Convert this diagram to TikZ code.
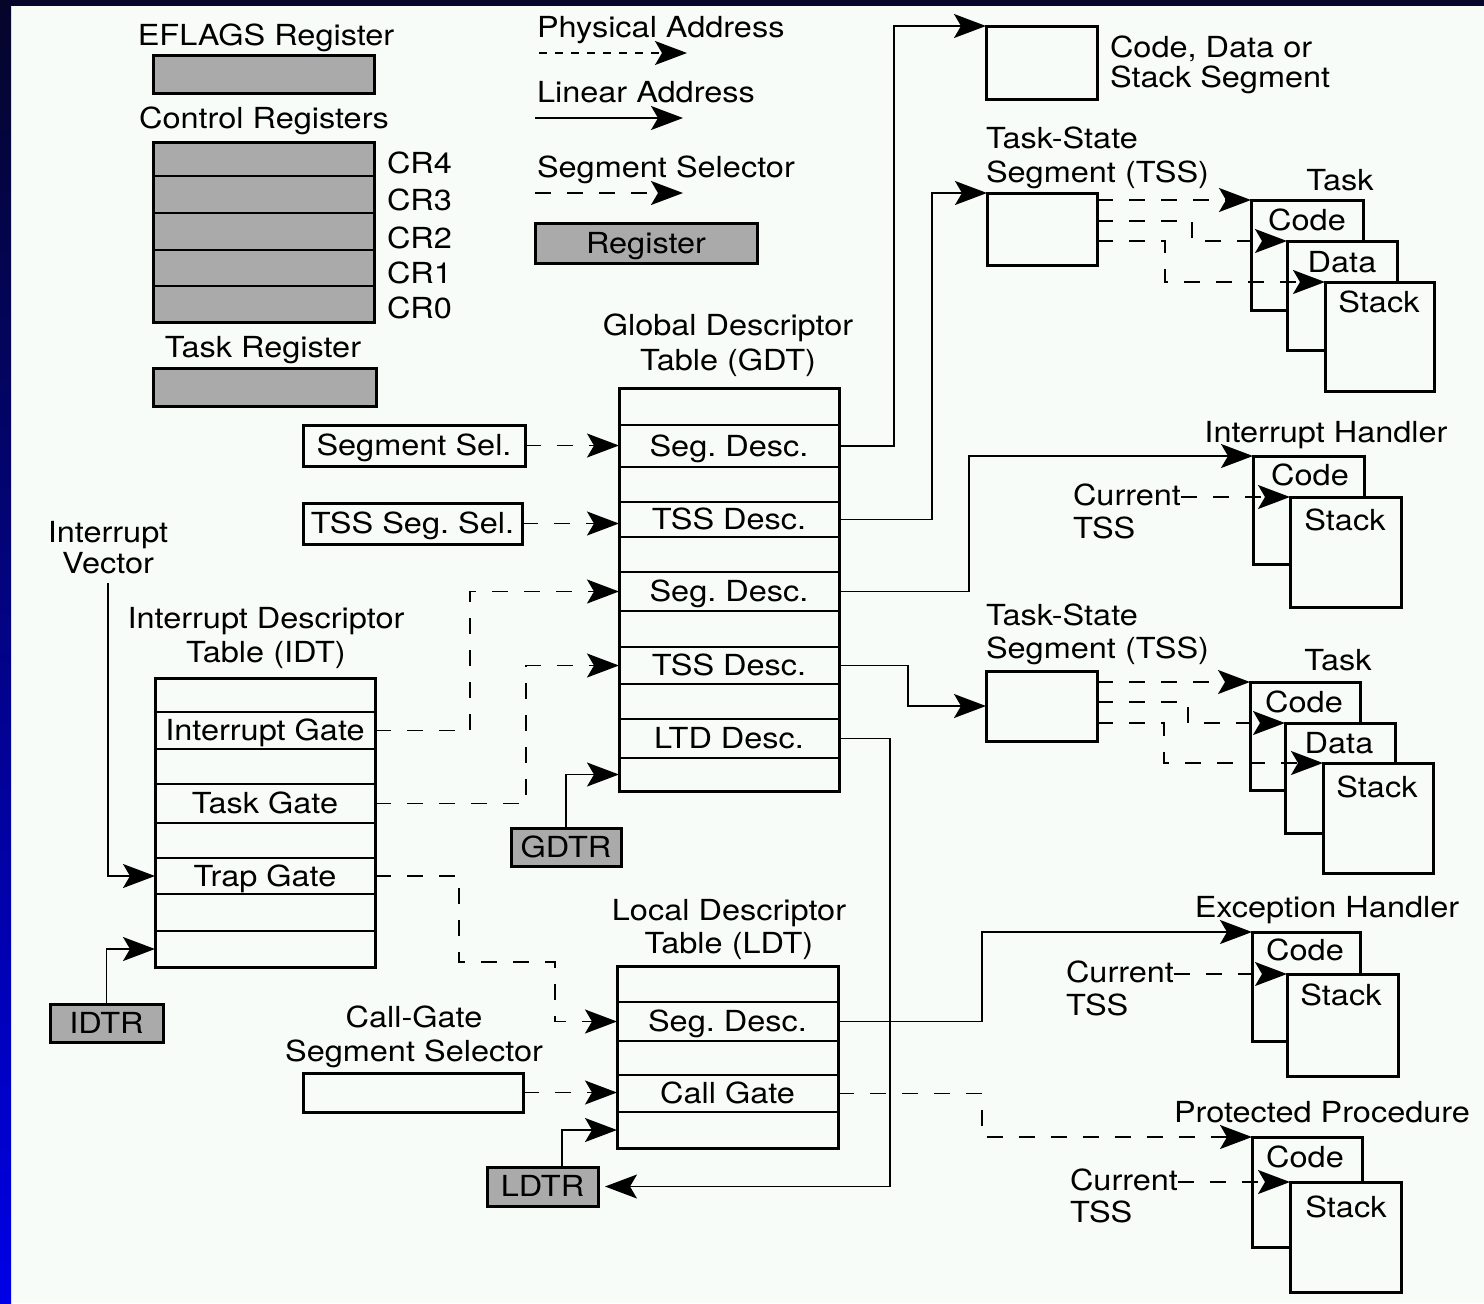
\documentclass[tikz,border=0pt]{standalone}
\usepackage{fontspec}
\setmainfont{TeX Gyre Heros}[FakeStretch=1.12]
\usetikzlibrary{arrows.meta}
\definecolor{bgc}{RGB}{248,252,248}
\definecolor{regc}{RGB}{170,170,170}
\definecolor{navyc}{RGB}{5,5,42}
\definecolor{brblue}{RGB}{0,0,230}
\begin{document}
\frenchspacing
\begin{tikzpicture}[x=0.5pt,y=-0.5pt,
  font=\fontsize{14.5}{17}\selectfont,
  bx/.style={draw=black, line width=1.5pt, fill=bgc, inner sep=0pt, outer sep=0pt, text height=10.4pt, text depth=0pt},
  rg/.style={bx, fill=regc},
  cell/.style={draw=black, line width=0.8pt, inner sep=0pt, outer sep=0pt, text height=10.4pt, text depth=0pt},
  crcell/.style={cell, fill=regc, minimum width=110.5pt},
  outer/.style={draw=black, line width=1.5pt, inner sep=0pt, outer sep=0pt},
  txt/.style={inner sep=0pt, outer sep=0pt, text height=10.4pt, text depth=0pt},
  ml/.style={inner sep=0pt, outer sep=0pt, text depth=0pt},
  lin/.style={line width=0.8pt, -{Stealth[length=16pt,width=12pt,inset=3.5pt]}},
  sel/.style={lin, dash pattern=on 8pt off 8pt},
  phy/.style={lin, dash pattern=on 4pt off 4pt},
]
% background and frame
\useasboundingbox (0,0) rectangle (1484,1303);
\fill[bgc] (0,0) rectangle (1484,1303);
\fill[navyc] (0,0) rectangle (1484,6);
\shade[top color=navyc, bottom color=brblue] (0,0) rectangle (11,1303);

% ---------- registers (left top) ----------
\node[txt] (eflagsT) at (266,35) {EFLAGS Register};
\node[rg, minimum width=110.5pt, minimum height=19pt] (eflags) at (263.5,74) {};
\node[txt] (crT) at (264,118) {Control Registers};
\node[crcell, minimum height=17pt]   (cr4r) at (263.5,159) {};
\node[crcell, minimum height=18.5pt] (cr3r) at (263.5,194.5) {};
\node[crcell, minimum height=18.5pt] (cr2r) at (263.5,231.5) {};
\node[crcell, minimum height=18pt]   (cr1r) at (263.5,268) {};
\node[crcell, minimum height=18pt]   (cr0r) at (263.5,304) {};
\node[outer, minimum width=110.5pt, minimum height=90pt] (cr) at (263.5,232) {};
\node[txt, anchor=west] (cr4) at (387,163) {CR4};
\node[txt, anchor=west] (cr3) at (387,200) {CR3};
\node[txt, anchor=west] (cr2) at (387,238) {CR2};
\node[txt, anchor=west] (cr1) at (387,273) {CR1};
\node[txt, anchor=west] (cr0) at (387,308) {CR0};
\node[txt] (trT) at (263,347) {Task Register};
\node[rg, minimum width=111.5pt, minimum height=19pt] (tr) at (264.5,387) {};

% ---------- legend ----------
\node[txt, anchor=west] (lgPA) at (537,27) {Physical Address};
\coordinate (pa1) at (539,53); \coordinate (pa2) at (687,53);
\draw[phy] (pa1) -- (pa2);
\node[txt, anchor=west] (lgLA) at (537,92) {Linear Address};
\coordinate (la1) at (535,118); \coordinate (la2) at (683,118);
\draw[lin] (la1) -- (la2);
\node[txt, anchor=west] (lgSS) at (537,167) {Segment Selector};
\coordinate (sl1) at (535,193); \coordinate (sl2) at (683,193);
\draw[sel] (sl1) -- (sl2);
\node[rg, minimum width=111pt, minimum height=20pt] (lgR) at (646,243) {Register};

% ---------- GDT ----------
\node[ml, align=center, anchor=south, font=\fontsize{14.5}{17.5}\selectfont] (gdtT) at (728,370) {Global Descriptor\\Table (GDT)};
\begin{scope}[every node/.append style={minimum width=110pt}]
\node[cell, minimum height=18.5pt] (g0) at (729,406.5) {};
\node[cell, minimum height=21pt]   (gSeg1) at (729,446) {Seg. Desc.};
\node[cell, minimum height=17.5pt] (g2) at (729,484.5) {};
\node[cell, minimum height=17.5pt] (gTss1) at (729,519.5) {TSS Desc.};
\node[cell, minimum height=17.5pt] (g4) at (729,554.5) {};
\node[cell, minimum height=19.5pt] (gSeg2) at (729,591.5) {Seg. Desc.};
\node[cell, minimum height=18pt]   (g6) at (729,629) {};
\node[cell, minimum height=18.5pt] (gTss2) at (729,665.5) {TSS Desc.};
\node[cell, minimum height=17.5pt] (g8) at (729,701.5) {};
\node[cell, minimum height=19.5pt] (gLtd) at (729,738.5) {LTD Desc.};
\node[cell, minimum height=16.5pt] (gLast) at (729,774.5) {};
\node[outer, minimum height=201.5pt] (gdt) at (729,589.5) {};
\end{scope}

% selectors
\node[bx, minimum width=111pt, minimum height=20.5pt] (ss) at (414,445.5) {Segment Sel.};
\node[bx, minimum width=109.5pt, minimum height=20.5pt] (tss) at (412.5,523.5) {TSS Seg. Sel.};

% ---------- IDT ----------
\node[ml, align=center, anchor=south] (idtT) at (266,662) {Interrupt Descriptor\\Table (IDT)};
\begin{scope}[every node/.append style={minimum width=110pt}]
\node[cell, minimum height=17pt]   (i0) at (265,695) {};
\node[cell, minimum height=18.5pt] (iInt) at (265,730.5) {Interrupt Gate};
\node[cell, minimum height=17.5pt] (i2) at (265,766.5) {};
\node[cell, minimum height=19.5pt] (iTask) at (265,803.5) {Task Gate};
\node[cell, minimum height=17.5pt] (i4) at (265,840.5) {};
\node[cell, minimum height=18pt]   (iTrap) at (265,876) {Trap Gate};
\node[cell, minimum height=18.5pt] (i6) at (265,912.5) {};
\node[cell, minimum height=18pt]   (iLast) at (265,949) {};
\node[outer, minimum height=144.5pt] (idt) at (265,822.5) {};
\end{scope}
\node[ml, align=center, anchor=south, font=\fontsize{14.5}{15.5}\selectfont] (ivT) at (108,573) {Interrupt\\Vector};

% registers
\node[rg, minimum width=55pt, minimum height=19pt] (gdtr) at (566,847) {GDTR};
\node[rg, minimum width=56.5pt, minimum height=19pt] (idtr) at (106.5,1023) {IDTR};
\node[rg, minimum width=55.5pt, minimum height=19.5pt] (ldtr) at (542.5,1186.5) {LDTR};

% ---------- LDT ----------
\node[ml, align=center, anchor=south, font=\fontsize{14.5}{16.5}\selectfont] (ldtT) at (729,953) {Local Descriptor\\Table (LDT)};
\begin{scope}[every node/.append style={minimum width=110.5pt}]
\node[cell, minimum height=18pt]   (l0) at (727.5,984) {};
\node[cell, minimum height=19.5pt] (lSeg) at (727.5,1021.5) {Seg. Desc.};
\node[cell, minimum height=17pt]   (l2) at (727.5,1058) {};
\node[cell, minimum height=18.5pt] (lCall) at (727.5,1093.5) {Call Gate};
\node[cell, minimum height=18pt]   (lLast) at (727.5,1130) {};
\node[outer, minimum height=91pt] (ldt) at (727.5,1057) {};
\end{scope}
\node[ml, align=center, anchor=south] (cgT) at (414,1061) {Call-Gate\\Segment Selector};
\node[bx, minimum width=110pt, minimum height=19.5pt] (cgs) at (413,1092.5) {};

% ---------- right column ----------
\node[bx, minimum width=55.5pt, minimum height=36.5pt] (cds) at (1041.5,62.5) {};
\node[ml, align=left, anchor=south west, font=\fontsize{14.5}{15}\selectfont] (cdsT) at (1110,87) {Code, Data or\\Stack Segment};

\node[ml, align=left, anchor=south west] (tss1T) at (986,182) {Task-State\\Segment (TSS)};
\node[bx, minimum width=55pt, minimum height=36pt] (tss1) at (1042,229) {};
\node[txt] (task1T) at (1340,180) {Task};
\node[bx, minimum width=56pt, minimum height=55pt] (t1C) at (1307,255) {};
\node[txt] (t1CT) at (1307,220) {Code};
\node[bx, minimum width=55pt, minimum height=54.5pt] (t1D) at (1342,295.5) {};
\node[txt] (t1DT) at (1342,262) {Data};
\node[bx, minimum width=54.5pt, minimum height=54.5pt] (t1S) at (1379.5,336.5) {};
\node[txt] (t1ST) at (1379,302) {Stack};

\node[txt] (ihT) at (1326,432) {Interrupt Handler};
\node[bx, minimum width=55.5pt, minimum height=54pt] (ihC) at (1308.5,510) {};
\node[txt] (ihCT) at (1310,475) {Code};
\node[bx, minimum width=55.5pt, minimum height=55pt] (ihS) at (1345.5,552) {};
\node[txt] (ihST) at (1345,520) {Stack};
\node[ml, align=left, anchor=south west, font=\fontsize{14.5}{16.5}\selectfont] (cur1) at (1073,538) {Current\\TSS};

\node[ml, align=left, anchor=south west, font=\fontsize{14.5}{16.5}\selectfont] (tss2T) at (986,658) {Task-State\\Segment (TSS)};
\node[bx, minimum width=55.5pt, minimum height=35pt] (tss2) at (1041.5,706) {};
\node[txt] (task2T) at (1338,660) {Task};
\node[bx, minimum width=55pt, minimum height=54pt] (t2C) at (1305,736) {};
\node[txt] (t2CT) at (1304,702) {Code};
\node[bx, minimum width=55pt, minimum height=55pt] (t2D) at (1340,778) {};
\node[txt] (t2DT) at (1339,743) {Data};
\node[bx, minimum width=55pt, minimum height=55pt] (t2S) at (1378,818) {};
\node[txt] (t2ST) at (1377,787) {Stack};

\node[txt] (ehT) at (1327,907) {Exception Handler};
\node[bx, minimum width=54pt, minimum height=54.5pt] (ehC) at (1306,986.5) {};
\node[txt] (ehCT) at (1305,950) {Code};
\node[bx, minimum width=55.5pt, minimum height=51pt] (ehS) at (1342.5,1025) {};
\node[txt] (ehST) at (1341,995) {Stack};
\node[ml, align=left, anchor=south west, font=\fontsize{14.5}{16.5}\selectfont] (cur2) at (1066,1015) {Current\\TSS};

\node[txt] (ppT) at (1322,1112) {Protected Procedure};
\node[bx, minimum width=55pt, minimum height=55pt] (ppC) at (1307,1192) {};
\node[txt] (ppCT) at (1305,1157) {Code};
\node[bx, minimum width=55.5pt, minimum height=55pt] (ppS) at (1345.5,1237) {};
\node[txt] (ppST) at (1346,1207) {Stack};
\node[ml, align=left, anchor=south west, font=\fontsize{14.5}{16}\selectfont] (cur3) at (1070,1222) {Current\\TSS};

% ---------- bend coordinates ----------
\coordinate (x894) at (894,0);
\coordinate (x932) at (932,0);
\coordinate (x969) at (969,0);
\coordinate (x908) at (908,0);
\coordinate (x890) at (890,0);
\coordinate (x470) at (470,0);
\coordinate (x526) at (526,0);
\coordinate (x459) at (459,0);
\coordinate (x555) at (555,0);
\coordinate (y962) at (0,962);
\coordinate (x982) at (982,0);
\coordinate (x1192) at (1192,0);
\coordinate (x1165) at (1165,0);
\coordinate (y221) at (0,221);
\coordinate (x1188) at (1188,0);
\coordinate (x1164) at (1164,0);
\coordinate (y702) at (0,702);

% ---------- connectors ----------
\draw[sel] (ss.east) -- (ss.east -| gSeg1.west);
\draw[sel] (tss.east) -- (tss.east -| gTss1.west);
\draw[lin] (gSeg1.east) -| (x894 |- cds.north west) -- (cds.north west);
\draw[lin] (gTss1.east) -| (x932 |- tss1.north west) -- (tss1.north west);
\draw[lin] (gSeg2.east) -| (x969 |- ihC.north west) -- (ihC.north west);
\draw[lin] (gTss2.east) -| (x908 |- tss2.west) -- (tss2.west);
\draw[lin] (gLtd.east) -| (x890 |- ldtr.east) -- ([xshift=3.5pt]ldtr.east);
\draw[lin] (gdtr.north) |- (gLast.west);
\draw[lin] ([yshift=-5pt]ivT.south) |- (iTrap.west);
\draw[lin] (idtr.north) |- (iLast.west);
\draw[sel] (iInt.east) -| (x470 |- gSeg2.west) -- (gSeg2.west);
\draw[sel] (iTask.east) -| (x526 |- gTss2.west) -- (gTss2.west);
\draw[sel] (iTrap.east) -| (x459 |- y962) -| (x555 |- lSeg.west) -- (lSeg.west);
\draw[sel] (cgs.east) -- (cgs.east -| lCall.west);
\draw[lin] ([xshift=9.75pt]ldtr.north) |- (lLast.west);
\draw[lin] (lSeg.east) -| (x982 |- ehC.north west) -- (ehC.north west);
\draw[sel] (lCall.east) -| (x982 |- ppC.north west) -- (ppC.north west);

% TSS -> task segments
\draw[sel] (tss1.east |- t1C.north west) -- (t1C.north west);
\draw[sel] (tss1.east |- y221) -| (x1192 |- t1D.north west) -- (t1D.north west);
\draw[sel] (tss1.east |- t1D.north west) -| (x1165 |- t1S.north west) -- (t1S.north west);
\draw[sel] (tss2.east |- t2C.north west) -- (t2C.north west);
\draw[sel] (tss2.east |- y702) -| (x1188 |- t2D.north west) -- (t2D.north west);
\draw[sel] (tss2.east |- t2D.north west) -| (x1164 |- t2S.north west) -- (t2S.north west);

% current TSS -> stack
\draw[sel] (cur1.east |- ihS.north west) -- (ihS.north west);
\draw[sel] (cur2.east |- ehS.north west) -- (ehS.north west);
\draw[sel] (cur3.east |- ppS.north west) -- (ppS.north west);
\end{tikzpicture}
\end{document}
